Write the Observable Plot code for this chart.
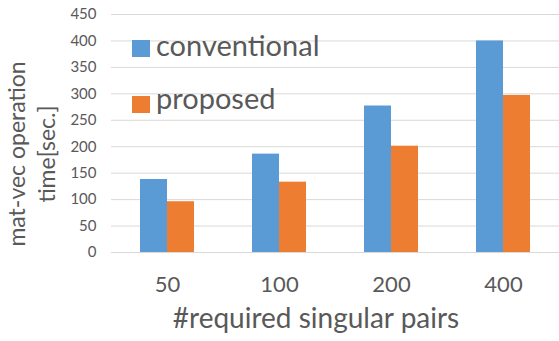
<!DOCTYPE html>
<html><head><meta charset="utf-8">
<script src="https://cdn.jsdelivr.net/npm/d3@7"></script>
<script src="https://cdn.jsdelivr.net/npm/@observablehq/plot@0.6"></script>
<style>
body{margin:0;background:#fff;}
#wrap{position:relative;width:559px;height:341px;font-family:Lato,sans-serif;color:#595959;overflow:hidden;}
#wrap svg{position:absolute;left:0;top:0;}
.ov{position:absolute;white-space:nowrap;}
#ytitle{width:220px;height:60px;left:-79px;top:124px;transform:rotate(-90deg);transform-origin:50% 50%;text-align:center;font-size:23px;line-height:30px;}
#xtitle{width:400px;left:116px;top:300.8px;text-align:center;font-size:28px;line-height:33px;}
.lg{left:132px;font-size:29px;line-height:34px;display:flex;align-items:flex-start;}
.sw{display:inline-block;width:18px;height:17px;margin-right:6px;}
</style></head><body><div id="wrap"></div>
<script>
const groups = ["50", "100", "200", "400"];
const seriesNames = ["conventional", "proposed"];
const conventional = [138, 186, 277, 400];
const proposed = [96, 133, 201, 297];
const yTicks = [0, 50, 100, 150, 200, 250, 300, 350, 400, 450];
const colors = ["#5B9BD5", "#ED7D31"];
const yTitleLines = ["mat-vec operation", "time[sec.]"];
const xTitle = "#required singular pairs";

const data = groups.flatMap((g, i) => [
  {group: g, series: seriesNames[0], value: conventional[i]},
  {group: g, series: seriesNames[1], value: proposed[i]}
]);

const chart = Plot.plot({
  width: 559, height: 341,
  marginLeft: 111, marginRight: 0, marginTop: 14, marginBottom: 89,
  style: {fontFamily: "Lato, sans-serif", background: "transparent", color: "#595959"},
  fx: {domain: groups, padding: 0, label: null},
  x: {domain: seriesNames, axis: null, paddingInner: 0, paddingOuter: 1.07},
  y: {domain: [0, 450], label: null},
  color: {domain: seriesNames, range: colors},
  marks: [
    Plot.gridY(yTicks, {stroke: "#d9d9d9", strokeOpacity: 1}),
    Plot.axisY(yTicks, {tickSize: 0, tickPadding: 15, fontSize: 15, fill: "#595959", label: null}),
    Plot.axisFx({anchor: "bottom", tickSize: 0, tickPadding: 24, fontSize: 22, fill: "#595959", label: null}),
    Plot.barY(data, {fx: "group", x: "series", y: "value", fill: "series"})
  ]
});
const wrap = document.getElementById("wrap");
wrap.appendChild(chart);

const yt = document.createElement("div");
yt.className = "ov"; yt.id = "ytitle";
yt.innerHTML = yTitleLines.join("<br>");
wrap.appendChild(yt);

const xt = document.createElement("div");
xt.className = "ov"; xt.id = "xtitle";
xt.textContent = xTitle;
wrap.appendChild(xt);

const lgTops = [27.6, 80.9];
seriesNames.forEach((s, i) => {
  const d = document.createElement("div");
  d.className = "ov lg";
  d.style.top = lgTops[i] + "px";
  const sw = document.createElement("span");
  sw.className = "sw"; sw.style.background = colors[i];
  sw.style.marginTop = (i === 0 ? 12.4 : 15.1) + "px";
  const t = document.createElement("span");
  t.textContent = s;
  d.appendChild(sw); d.appendChild(t);
  wrap.appendChild(d);
});
</script>
</body></html>
